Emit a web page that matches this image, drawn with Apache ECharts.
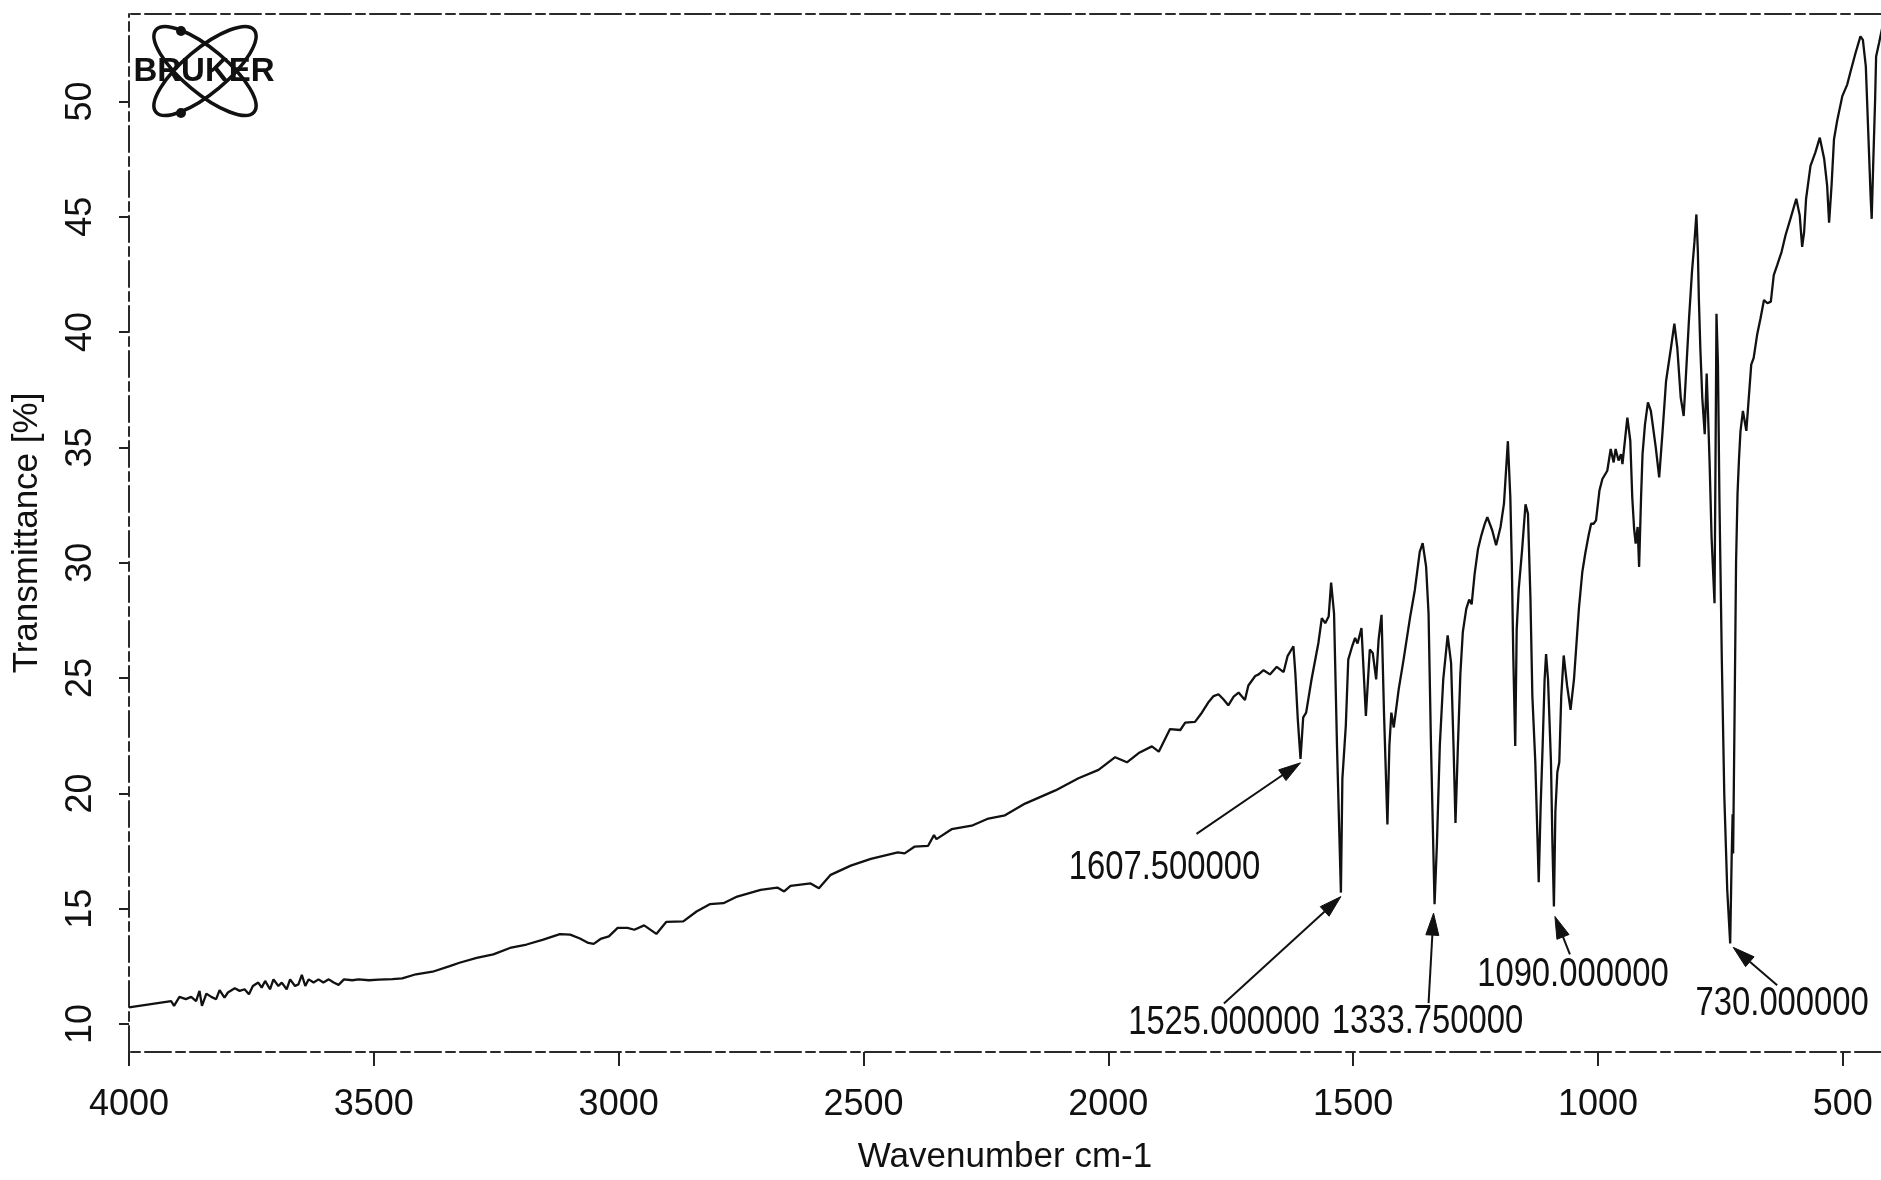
<!DOCTYPE html>
<html>
<head>
<meta charset="utf-8">
<script src="https://cdn.jsdelivr.net/npm/echarts@6/dist/echarts.min.js"></script>
<style>
html,body{margin:0;padding:0;background:#ffffff;}
#c{width:1881px;height:1180px;}
</style>
</head>
<body>
<div id="c"></div>
<script>
// ---------------- data ----------------
const wavenumber = [
4000,3914,3908,3897,3884,3873,3863,3856,3851,3842,3832,3822,3815,3805,3798,3784,3774,3764,3755,3747,
3736,3729,3722,3712,3705,3695,3688,3678,3671,3661,3654,3647,3640,3633,3623,3613,3603,3592,3582,3572,
3561,3544,3531,3510,3490,3462,3442,3414,3380,3345,3325,3290,3256,3222,3188,3154,3120,3099,3079,3062,
3051,3037,3020,3002,2982,2968,2948,2923,2903,2868,2841,2814,2786,2758,2710,2676,2662,2649,2608,2591,
2567,2526,2485,2430,2416,2396,2368,2356,2351,2320,2279,2245,2211,2170,2108,2061,2020,1986,1962,1938,
1911,1897,1874,1853,1843,1823,1809,1796,1785,1775,1765,1755,1744,1734,1721,1714,1700,1693,1683,1670,
1656,1642,1634,1622,1618,1613,1607.5,1602,1596,1585,1571,1564,1557,1550,1545,1539,1533,1525,1522,1515,
1510,1502,1496,1491,1483,1474,1466,1460,1453,1448,1442,1437,1430,1426,1422,1417,1407,1397,1384,1374,
1364,1358,1351,1346,1341,1333.75,1329,1323,1316,1307,1300,1295,1291,1286,1281,1276,1269,1263,1258,1252,
1245,1238,1231,1226,1216,1208,1199,1192,1184,1179,1176,1173,1169,1166,1162,1155,1148,1143,1138,1134,
1128,1121,1117,1113,1109,1106,1102,1096,1093,1090,1087,1083,1079,1075,1070,1063,1056,1049,1039,1032,
1026,1019,1014,1009,1004,997,991,981,974,968,964,958,953,950,945,940,934,930,926,923,
919,916,912,909,904,898,892,882,875,868,861,851,844,838,831,825,821,814,808,803,
799,796,794,791,787,782,778,775,772,768,762,760,758,755,752,747,742,736,730,727,
725,724,721,718,715,712,709,704,697,692,687,682,675,668,661,654,647,641,634,625,
617,607,595,588,583,579,575,566,556,547,538,532,528,523,518,511,501,491,484,474,
464,459,453,448,443,441,438,434,432,426,419
];
const transmittance = [
10.72,11.00,10.79,11.18,11.08,11.18,11.00,11.44,10.79,11.32,11.18,11.08,11.47,11.15,11.37,11.55,11.44,11.51,11.29,11.65,
11.80,11.58,11.87,11.51,11.94,11.65,11.80,11.51,11.94,11.65,11.72,12.13,11.65,11.94,11.80,11.94,11.80,11.94,11.80,11.70,
11.94,11.90,11.94,11.90,11.93,11.95,11.98,12.16,12.27,12.51,12.66,12.87,13.02,13.30,13.45,13.66,13.90,13.88,13.71,13.52,
13.48,13.69,13.80,14.17,14.17,14.09,14.28,13.91,14.43,14.45,14.88,15.20,15.24,15.53,15.82,15.92,15.75,15.99,16.10,15.89,
16.47,16.87,17.16,17.44,17.40,17.69,17.73,18.19,18.02,18.45,18.60,18.91,19.05,19.56,20.13,20.66,21.02,21.57,21.35,21.75,
22.04,21.81,22.79,22.75,23.07,23.10,23.50,23.94,24.22,24.30,24.08,23.82,24.20,24.37,24.05,24.68,25.09,25.16,25.34,25.16,
25.49,25.26,25.95,26.38,25.20,23.20,21.50,23.30,23.50,24.94,26.52,27.60,27.38,27.67,29.14,27.80,22.07,15.70,20.63,22.93,
25.80,26.38,26.74,26.50,27.17,23.36,26.24,26.09,24.94,26.67,27.74,23.50,18.65,22.07,23.50,22.86,24.51,25.80,27.60,28.82,
30.47,30.85,29.83,27.80,22.07,15.20,17.76,22.07,24.94,26.85,25.66,22.07,18.72,22.10,25.20,27.00,28.00,28.40,28.20,29.50,
30.60,31.20,31.70,31.98,31.41,30.76,31.55,32.56,35.27,32.84,30.00,26.00,22.06,27.10,28.82,30.55,32.53,32.13,28.53,24.22,
21.35,16.15,19.50,22.07,24.94,26.04,24.94,21.35,17.80,15.10,19.20,20.92,21.35,24.22,25.98,24.66,23.62,24.94,28.00,29.60,
30.40,31.20,31.69,31.69,31.84,33.13,33.63,33.99,34.93,34.35,34.93,34.43,34.71,34.28,35.29,36.29,35.29,32.84,31.41,30.83,
31.55,29.82,32.84,34.71,36.00,36.95,36.58,35.00,33.70,35.72,37.87,39.31,40.37,39.31,37.16,36.36,37.87,40.60,42.62,43.91,
45.10,43.48,41.47,39.31,37.16,35.57,38.20,36.30,34.30,31.10,28.25,34.30,40.79,38.60,32.80,25.70,19.90,15.80,13.50,17.20,
19.10,17.40,23.50,30.00,33.00,34.50,35.70,36.58,35.72,37.16,38.59,38.88,39.88,40.60,41.39,41.25,41.32,42.47,42.90,43.48,
44.20,44.91,45.78,45.06,43.69,44.34,45.78,47.21,47.79,48.43,47.50,46.35,44.74,46.35,48.36,49.22,50.23,50.73,51.31,52.10,
52.82,52.67,51.52,48.65,45.78,44.91,47.21,50.09,51.95,52.53,53.25
];
const xTickValues = [4000, 3500, 3000, 2500, 2000, 1500, 1000, 500];
const yTickValues = [10, 15, 20, 25, 30, 35, 40, 45, 50];
const peakLabels = ['1607.500000', '1525.000000', '1333.750000', '1090.000000', '730.000000'];
const peakWavenumbers = [1607.5, 1525, 1333.75, 1090, 730];

// ---------------- layout (pixel offsets of annotations from their peak) ----------------
const arrowTipOffset   = [[0, 4], [0, 4], [-1, 9], [1, 10], [3, 4]];
const arrowStartOffset = [[-104, 75], [-117, 111], [-6, 99], [16, 48], [47, 42]];
const labelOffset      = [[-136, 109], [-117, 130], [-7, 118], [19, 69], [52, 61]];

const FONT = "'Liberation Sans',Arial,sans-serif";
const INK = '#111111';
const frameLine = { color: '#2a2a2a', width: 2, type: [26, 5, 9, 5] };

const chart = echarts.init(document.getElementById('c'), null, { renderer: 'canvas', width: 1881, height: 1180 });

const option = {
  animation: false,
  backgroundColor: '#ffffff',
  grid: { left: 129, right: 0, top: 14, bottom: 122, containLabel: false },
  xAxis: [{
    type: 'value', min: 422, max: 4000, inverse: true,
    name: 'Wavenumber cm-1', nameLocation: 'middle', nameGap: 88,
    nameTextStyle: { fontFamily: FONT, fontSize: 35, color: INK },
    axisLine: { show: true, onZero: false, lineStyle: frameLine },
    axisTick: { show: true, inside: false, length: 14, customValues: xTickValues, lineStyle: { color: '#222', width: 2 } },
    axisLabel: { show: true, customValues: xTickValues, margin: 35, fontFamily: FONT, fontSize: 36, color: INK,
                 formatter: function (v) { return String(v); } },
    splitLine: { show: false }
  }, {
    type: 'value', position: 'top', min: 422, max: 4000, inverse: true,
    axisLine: { show: true, onZero: false, lineStyle: frameLine },
    axisTick: { show: false }, axisLabel: { show: false }, splitLine: { show: false }
  }],
  yAxis: {
    type: 'value', min: 8.79, max: 53.79,
    name: 'Transmittance [%]', nameLocation: 'middle', nameGap: 84,
    nameTextStyle: { fontFamily: FONT, fontSize: 35, color: INK },
    axisLine: { show: true, onZero: false, lineStyle: frameLine },
    axisTick: { show: true, inside: false, length: 10, customValues: yTickValues, lineStyle: { color: '#222', width: 2 } },
    axisLabel: { show: true, rotate: 90, customValues: yTickValues, margin: 30, fontFamily: FONT, fontSize: 36, color: INK,
                 formatter: function (v) { return String(v); } },
    splitLine: { show: false }
  },
  series: [{
    type: 'line',
    xAxisIndex: 0,
    data: wavenumber.map((w, i) => [w, transmittance[i]]),
    showSymbol: false, symbol: 'none',
    lineStyle: { color: INK, width: 2.3 },
    clip: true
  }]
};
chart.setOption(option);

// ---------------- annotations + logo ----------------
const graphics = [];
peakWavenumbers.forEach((w, i) => {
  const idx = wavenumber.indexOf(w);
  const p = chart.convertToPixel({ seriesIndex: 0 }, [w, transmittance[idx]]);
  const tip = [p[0] + arrowTipOffset[i][0], p[1] + arrowTipOffset[i][1]];
  const st = [p[0] + arrowStartOffset[i][0], p[1] + arrowStartOffset[i][1]];
  const dx = tip[0] - st[0], dy = tip[1] - st[1];
  const len = Math.sqrt(dx * dx + dy * dy);
  const ux = dx / len, uy = dy / len;
  const headLen = 22, headHalf = 6.5;
  const base = [tip[0] - ux * headLen, tip[1] - uy * headLen];
  const nx = -uy, ny = ux;
  graphics.push({
    type: 'line', z: 10,
    shape: { x1: st[0], y1: st[1], x2: base[0], y2: base[1] },
    style: { stroke: INK, lineWidth: 2 }
  });
  graphics.push({
    type: 'polygon', z: 10,
    shape: { points: [tip, [base[0] + nx * headHalf, base[1] + ny * headHalf], [base[0] - nx * headHalf, base[1] - ny * headHalf]] },
    style: { fill: INK, stroke: INK, lineWidth: 1 }
  });
  graphics.push({
    type: 'text', z: 10,
    x: p[0] + labelOffset[i][0], y: p[1] + labelOffset[i][1],
    scaleX: 0.82, scaleY: 1,
    style: { text: peakLabels[i], fontFamily: FONT, fontSize: 40, fill: INK, align: 'center', verticalAlign: 'middle' }
  });
});

// BRUKER logo
const tilt = 40 * Math.PI / 180;
graphics.push({
  type: 'group', x: 205, y: 71, z: 20,
  children: [
    { type: 'ellipse', rotation: tilt, shape: { cx: 0, cy: 0, rx: 64, ry: 22 }, style: { fill: 'none', stroke: INK, lineWidth: 3.5 } },
    { type: 'ellipse', rotation: -tilt, shape: { cx: 0, cy: 0, rx: 64, ry: 22 }, style: { fill: 'none', stroke: INK, lineWidth: 3.5 } },
    { type: 'circle', shape: { cx: -24, cy: -40, r: 5 }, style: { fill: INK } },
    { type: 'circle', shape: { cx: -24, cy: 42, r: 5 }, style: { fill: INK } },
    { type: 'text', x: -1, y: 1, style: { text: 'BRUKER', fontFamily: FONT, fontWeight: 'bold', fontSize: 33, fill: INK, align: 'center', verticalAlign: 'middle' } }
  ]
});

chart.setOption({ graphic: graphics });
</script>
</body>
</html>
